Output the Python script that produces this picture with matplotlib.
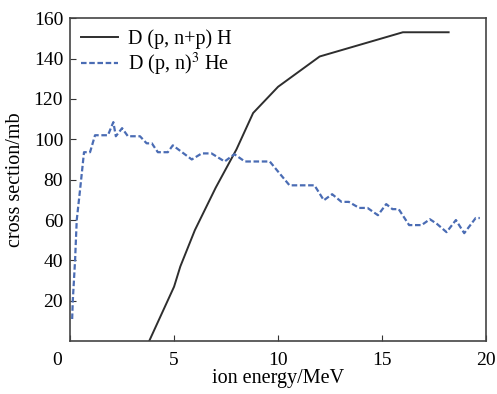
import matplotlib
matplotlib.use('Agg')
import matplotlib.pyplot as plt
import matplotlib.transforms as mtrans

plt.rcParams['font.family'] = ['Liberation Serif', 'DejaVu Serif']
plt.rcParams['mathtext.fontset'] = 'stix'

# D(p, n+p)H
x_np = [3.8, 4.6, 5.0, 5.3, 6.0, 7.0, 8.0, 8.8, 10.0, 12.0, 16.0, 18.2]
y_np = [0, 18, 27, 37, 55, 76, 95, 113, 126, 141, 153, 153]

# D(p, n)3He
x_he = [0.1, 0.13, 0.24, 0.32, 0.48, 0.67, 0.96, 1.2, 1.82, 2.08, 2.2, 2.5, 2.78,
        3.36, 3.68, 3.93, 4.22, 4.7, 4.94, 5.85, 6.33, 6.8, 7.43, 7.9, 8.4, 9.6,
        10.0, 10.55, 11.75, 12.2, 12.6, 13.05, 13.4, 13.9, 14.3, 14.8, 15.2, 15.5,
        15.8, 16.3, 16.9, 17.3, 17.65, 18.1, 18.55, 18.95, 19.5, 19.7]
y_he = [11, 20, 40, 60, 75, 93.6, 93.6, 102, 102, 108.5, 101.5, 105.5, 101.5,
        101.5, 98, 98, 93.6, 93.6, 97, 90, 93, 93, 89, 92.6, 89, 89,
        84, 77.2, 77.2, 69.8, 72.8, 69, 69, 66, 66, 62.4, 67.9, 65.4,
        65.4, 57.5, 57.5, 60.4, 58, 54, 60, 53.5, 61, 61]

fig = plt.figure(figsize=(4.97, 3.94), dpi=100)
ax = fig.add_axes([0.141, 0.134, 0.837, 0.82])

ax.plot(x_np, y_np, color='#2e2e2e', lw=1.4, label='D (p, n+p) H')
ax.plot(x_he, y_he, color='#4a6cb4', lw=1.6, ls=(0, (2.5, 1.2)),
        label='D (p, n)$^3$ He')

ax.set_xlim(0, 20)
ax.set_ylim(0, 160)
ax.set_xticks([0, 5, 10, 15, 20])
ax.set_yticks([20, 40, 60, 80, 100, 120, 140, 160])
ax.tick_params(direction='in', labelsize=14, length=4, color='#333333')
ax.tick_params(axis='x', pad=8)
ax.tick_params(axis='y', pad=5)
for s in ax.spines.values():
    s.set_color('#444444')
    s.set_linewidth(1.2)

# origin label sits left of the axis corner
lab0 = ax.get_xticklabels()[0]
lab0.set_transform(lab0.get_transform() +
                   mtrans.ScaledTranslation(-0.13, 0, fig.dpi_scale_trans))

ax.set_xlabel('ion energy/MeV', fontsize=14.5, labelpad=0)
ax.set_ylabel('cross section/mb', fontsize=14.5, labelpad=6)

ax.legend(loc='upper left', frameon=False, fontsize=14.5, handlelength=1.85,
          borderaxespad=0.15, labelspacing=0.1, handletextpad=0.5)

fig.savefig('out.png', dpi=100)
